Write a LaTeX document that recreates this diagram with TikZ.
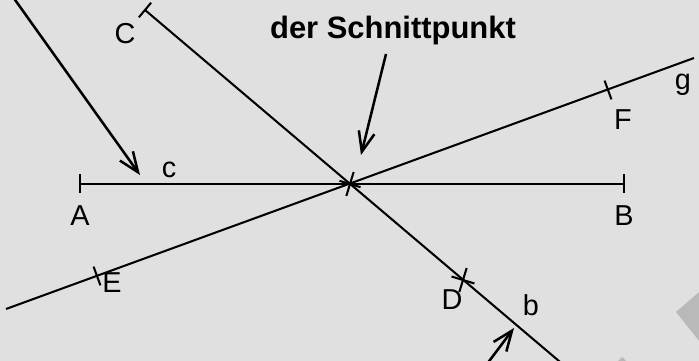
\documentclass[tikz,border=0pt]{standalone}
\usepackage{fontspec}
\setmainfont{Liberation Sans}
\usetikzlibrary{arrows.meta}
\definecolor{bgpaper}{gray}{0.88}
\definecolor{wmark}{gray}{0.725}
\tikzset{
  gline/.style={line width=1.45pt},
  tck/.style={line width=1.45pt},
  pfeil/.style={-{Straight Barb[length=5mm,width=4mm]},line width=1.8pt},
  lbl/.style={font=\fontsize{20.5}{24}\selectfont,inner sep=0pt},
  titel/.style={font=\fontsize{22}{26}\selectfont\bfseries,inner sep=0pt},
}

\begin{document}
\begin{tikzpicture}[x=0.025cm,y=-0.025cm]
  % paper and clipping
  \fill[bgpaper] (0,0) rectangle (699,361);
  \clip (0,0) rectangle (699,361);
  \fill[wmark] (676,312) -- (720,274) -- (720,367) -- cycle;
  \fill[wmark] (617,362) -- (622,357) -- (627,362) -- cycle;
  % points
  \coordinate (S) at (350,184);
  \coordinate (A) at (80,184);
  \coordinate (B) at (624,184);
  \coordinate (C) at (145,10);
  \coordinate (D) at (463,280);
  \coordinate (E) at (97,276);
  \coordinate (F) at (608,90);
  \coordinate (g0) at (6,309);
  \coordinate (g1) at (694,58);
  \coordinate (b1) at (566,367);
  % segment c, line g, ray b
  \draw[gline] (A) -- (B);
  \draw[gline] (g0) -- (g1);
  \draw[gline] (C) -- (b1);
  % tick marks
  \draw[tck,shift={(A)}] (0,-9.5) -- (0,9.5);
  \draw[tck,shift={(B)}] (0,-9.5) -- (0,9.5);
  \draw[tck,shift={(C)},rotate=-40] (0,-9.5) -- (0,9.5);
  \draw[tck,shift={(E)},rotate=20] (0,-10) -- (0,10);
  \draw[tck,shift={(F)},rotate=20] (0,-10) -- (0,10);
  \draw[tck,shift={(S)},rotate=-17] (0,-12.5) -- (0,12.5) (-11,0) -- (11,0);
  \draw[tck,shift={(D)},rotate=-17] (0,-12.5) -- (0,12.5) (-12,0) -- (12,0);
  % labels
  \node[lbl] (lC) at (125,34) {C};
  \node[lbl] (lc) at (169,170) {c};
  \node[lbl] (lA) at (80,216) {A};
  \node[lbl] (lB) at (624,216) {B};
  \node[lbl] (lE) at (112,283) {E};
  \node[lbl] (lD) at (452,300) {D};
  \node[lbl] (lb) at (531,305) {b};
  \node[lbl] (lF) at (623,120) {F};
  \node[lbl] (lg) at (683,85) {g};
  \node[titel] (titel) at (393,31) {der Schnittpunkt};
  % pointers
  \coordinate (p1s) at (13,-3);
  \coordinate (p1e) at (140,175);
  \coordinate (p2s) at (386,54);
  \coordinate (p2e) at (361,155);
  \coordinate (p3s) at (487,364);
  \coordinate (p3e) at (514,328);
  \draw[pfeil] (p1s) -- (p1e);
  \draw[pfeil] (p2s) -- (p2e);
  \draw[pfeil] (p3s) -- (p3e);
\end{tikzpicture}
\end{document}
